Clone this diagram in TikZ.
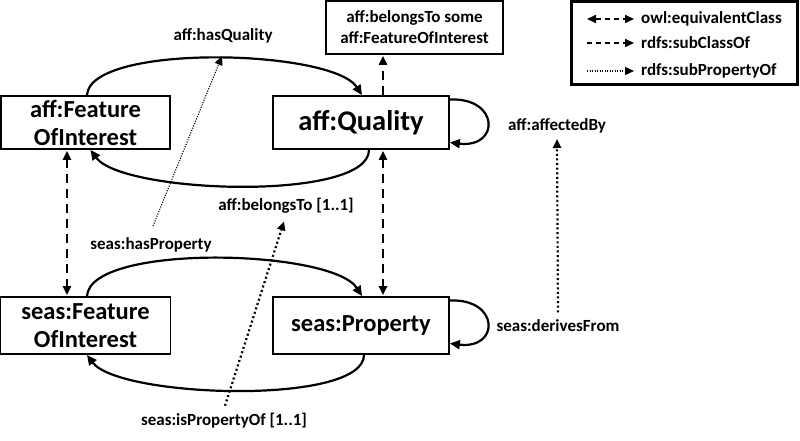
\documentclass[tikz,border=0pt]{standalone}
\usepackage{fontspec}
\setmainfont{Carlito}
\usetikzlibrary{arrows.meta, positioning, calc}

\begin{document}
\begin{tikzpicture}[
        x=1pt, y=1pt,
        cls/.style={rectangle, draw=black, line width=1.8pt, fill=white, align=center, inner sep=0pt, font=\bfseries\fontsize{24.5}{28}\selectfont},
        lbl/.style={inner sep=1pt, font=\bfseries\fontsize{17}{21}\selectfont, align=center},
        rel/.style={-{Triangle[length=10pt, width=9pt]}, line width=2.2pt},
        sub/.style={-{Triangle[length=9pt, width=8pt]}, line width=2.2pt, dash pattern=on 9pt off 6pt},
        equiv/.style={{Triangle[length=9pt, width=8pt]}-{Triangle[length=9pt, width=8pt]}, line width=2.2pt, dash pattern=on 9pt off 6pt},
        subp/.style={-{Triangle[length=9pt, width=8pt]}, line width=2.2pt, dash pattern=on 2pt off 2.6pt},
        subpthin/.style={-{Triangle[length=9pt, width=8pt]}, line width=1.1pt, dash pattern=on 1.1pt off 1.4pt}
    ]
        \useasboundingbox (0,0) rectangle (800,441);

        % Classes
        \node[cls, minimum width=169, minimum height=53] (afoi) at (85.5,318.5) {aff:Feature\\OfInterest};
        \node[cls, minimum width=176, minimum height=53, font=\bfseries\fontsize{28.5}{30}\selectfont] (qual) at (361,318.5) {aff:Quality};
        \node[cls, minimum width=177, minimum height=53, font=\bfseries\fontsize{17}{21}\selectfont] (some) at (414.5,413.5) {aff:belongsTo some\\aff:FeatureOfInterest};
        \node[cls, minimum width=170, minimum height=57] (sfoi) at (85.5,115.5) {seas:Feature\\OfInterest};
        \node[cls, minimum width=176, minimum height=57] (sprop) at (361,115.5) {seas:Property};

        % Property labels
        \node[lbl] (hasq) at (223,405) {aff:hasQuality};
        \node[lbl] (belongs) at (286,235) {aff:belongsTo [1..1]};
        \node[lbl] (hasprop) at (151,196) {seas:hasProperty};
        \node[lbl] (isprop) at (224,20) {seas:isPropertyOf [1..1]};
        \node[lbl] (affby) at (557,315) {aff:affectedBy};
        \node[lbl] (derives) at (558,115) {seas:derivesFrom};

        % Object properties
        \draw[rel] ([xshift=1.5pt]afoi.north) .. controls +(3,52) and +(-30,46) .. ([xshift=1pt]qual.north);
        \draw[rel] ([xshift=8pt]qual.south) .. controls +(0,-52) and +(32,-44) .. ([xshift=5pt]afoi.south);
        \draw[rel] ([xshift=1.5pt]sfoi.north) .. controls +(3,53) and +(-30,47) .. ([xshift=1pt]sprop.north);
        \draw[rel] ([xshift=3pt]sprop.south) .. controls +(0,-51) and +(32,-43) .. ([xshift=1.5pt]sfoi.south);
        \draw[rel] ([yshift=23pt]qual.east) .. controls +(50,2) and +(50,-6) .. ([yshift=-20pt]qual.east);
        \draw[rel] ([yshift=25pt]sprop.east) .. controls +(50,2) and +(50,-6) .. ([yshift=-18pt]sprop.east);

        % Class axioms
        \draw[equiv, shorten <=1pt, shorten >=1pt] ([xshift=-18.5pt]afoi.south) -- ([xshift=-18.5pt]sfoi.north);
        \draw[equiv, shorten <=1pt, shorten >=1pt] ([xshift=22pt]qual.south) -- ([xshift=22pt]sprop.north);
        \draw[sub, shorten >=1pt] ([xshift=22pt]qual.north) -- ([xshift=22pt]qual.north |- some.south);

        % Sub-properties
        \draw[subpthin] ([xshift=2pt, yshift=10.5pt]hasprop.north) -- ([xshift=-1pt, yshift=-11.5pt]hasq.south);
        \draw[subp] ([xshift=1pt, yshift=6.5pt]isprop.north) -- ([xshift=-2pt, yshift=-6.5pt]belongs.south);
        \draw[subp] ([yshift=6.5pt]derives.north) -- ([yshift=-4.5pt]affby.south);

        % Legend
        \node[draw=black, line width=2.6pt, minimum width=226, minimum height=83] (legend) at (684.5,398) {};
        \node[lbl, anchor=west] (leq) at (640,422) {owl:equivalentClass};
        \node[lbl, anchor=west] (lsub) at (640,398) {rdfs:subClassOf};
        \node[lbl, anchor=west] (lsubp) at (640,370) {rdfs:subPropertyOf};
        \coordinate (leq0) at (587,422);
        \coordinate (lsub0) at (587,398);
        \coordinate (lsubp0) at (587,370);
        \draw[equiv, line width=1.8pt, dash pattern=on 5pt off 4pt] (leq0) -- ([xshift=-6pt]leq.west);
        \draw[sub, line width=1.8pt, dash pattern=on 5pt off 4pt] (lsub0) -- ([xshift=-6pt]lsub.west);
        \draw[subpthin] (lsubp0) -- ([xshift=-6pt]lsubp.west);
    \end{tikzpicture}
\end{document}
